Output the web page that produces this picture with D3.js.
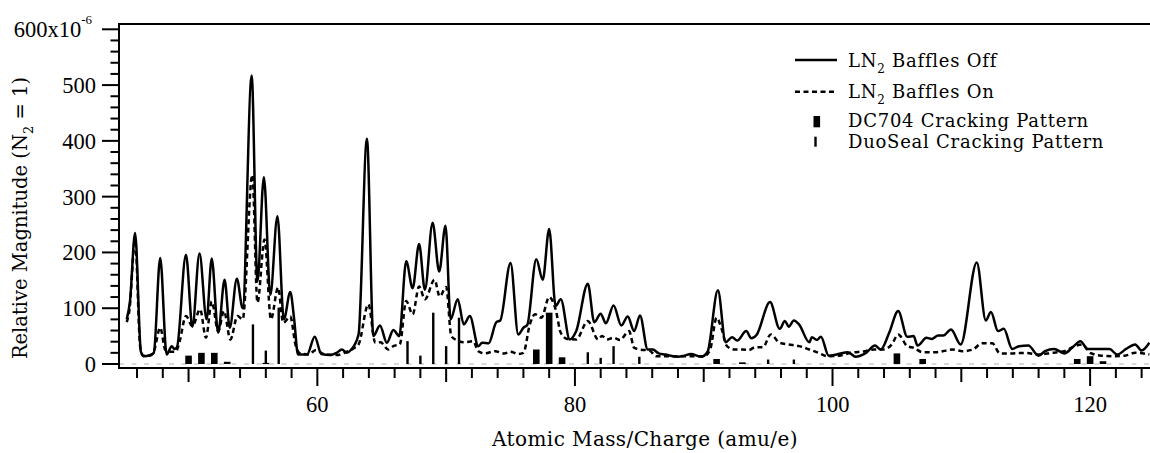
<!DOCTYPE html>
<html>
<head>
<meta charset="utf-8">
<script src="https://cdn.jsdelivr.net/npm/d3@7"></script>
<style>
  html, body { margin: 0; padding: 0; background: #fff; }
  svg { display: block; }
  text { fill: #000; }
</style>
</head>
<body>
<svg id="chart" width="1150" height="453"></svg>
<script>
// Residual gas spectrum, relative magnitude (N2 = 1), units of 1e-6.
// Each series: [mass (amu/e), magnitude] at peaks, valleys and shoulders.
const bafflesOff = [
  [45.2, 80], [45.45, 112], [45.85, 235], [46.3, 22], [46.5, 14], [47.0, 16], [47.3, 20],
  [47.8, 190], [48.3, 17], [48.7, 32], [48.9, 27], [49.1, 30], [49.8, 196], [50.3, 67],
  [50.85, 198], [51.4, 80], [51.8, 189], [52.3, 56], [52.8, 151], [53.2, 65], [53.75, 153],
  [54.2, 100], [54.9, 517], [55.35, 148], [55.85, 335], [56.35, 124], [56.9, 265],
  [57.4, 80], [57.9, 129], [58.2, 80], [58.5, 17], [59.2, 17], [59.8, 49], [60.3, 18],
  [61.0, 16], [61.5, 20], [61.9, 26], [62.3, 20], [62.6, 25], [63.2, 53], [63.85, 404],
  [64.35, 50], [64.86, 69], [65.4, 38], [65.9, 61], [66.36, 50], [66.9, 184], [67.4, 136],
  [67.9, 215], [68.35, 133], [68.95, 253], [69.46, 166], [69.95, 248], [70.35, 80],
  [70.9, 116], [71.37, 71], [71.84, 86], [72.5, 32], [72.8, 38], [73.3, 37], [73.9, 75],
  [74.2, 78], [75.0, 181], [75.6, 53], [76.0, 65], [76.3, 70], [77.0, 188], [77.5, 151],
  [78.0, 242], [78.5, 104], [78.9, 116], [79.6, 44], [80.1, 59], [81.0, 144], [81.5, 75],
  [82.0, 90], [82.4, 73], [83.0, 105], [83.6, 69], [84.1, 85], [84.6, 59], [85.05, 87],
  [85.65, 26], [86.05, 26], [86.5, 19], [87.0, 17], [88.0, 13], [88.5, 15], [89.0, 18],
  [89.8, 13], [90.3, 22], [91.1, 132], [91.7, 39], [92.2, 48], [92.6, 42], [93.3, 59],
  [93.7, 46], [94.1, 52], [95.15, 111], [95.9, 63], [96.3, 77], [96.6, 67], [97.0, 78],
  [97.4, 71], [98.2, 39], [98.4, 48], [98.8, 43], [99.1, 49], [99.7, 15], [100.3, 17],
  [101.2, 21], [101.8, 13], [102.6, 20], [103.3, 33], [103.75, 26], [104.4, 56],
  [105.1, 95], [105.8, 49], [106.3, 50], [106.6, 33], [107.3, 47], [107.7, 45],
  [108.2, 51], [108.6, 51], [109.2, 62], [109.95, 35], [111.2, 182], [111.9, 78],
  [112.3, 93], [112.85, 59], [113.3, 63], [113.95, 27], [114.5, 32], [115.2, 33],
  [116.0, 15], [116.5, 23], [117.2, 27], [118.0, 19], [118.6, 29], [119.25, 41],
  [119.8, 27], [120.5, 27], [121.0, 27], [121.5, 27], [122.1, 17], [122.8, 27],
  [123.5, 35], [124.0, 24], [124.6, 38]
];

const bafflesOn = [
  [45.2, 75], [45.4, 95], [45.85, 222], [46.25, 30], [46.5, 15], [47.0, 15], [47.3, 22],
  [47.8, 65], [48.2, 25], [48.6, 22], [49.0, 22], [49.3, 40], [49.8, 86], [50.3, 68],
  [50.9, 98], [51.35, 47], [51.8, 112], [52.3, 59], [52.75, 95], [53.25, 44], [53.8, 86],
  [54.2, 80], [54.95, 339], [55.35, 110], [55.9, 223], [56.4, 80], [56.95, 137],
  [57.35, 74], [57.9, 85], [58.3, 35], [58.6, 20], [59.3, 17], [59.9, 25], [60.5, 18],
  [61.5, 16], [62.3, 22], [62.8, 28], [63.2, 35], [63.96, 107], [64.5, 38], [64.9, 39],
  [65.5, 26], [65.9, 32], [66.4, 35], [66.9, 113], [67.4, 89], [67.9, 139], [68.35, 116],
  [69.1, 151], [69.5, 121], [70.0, 138], [70.4, 50], [70.9, 42], [71.4, 39], [72.1, 41],
  [72.5, 23], [73.0, 19], [73.8, 23], [74.5, 19], [75.0, 22], [75.6, 18], [76.0, 20],
  [76.5, 71], [76.9, 89], [77.4, 83], [78.0, 120], [78.5, 98], [78.9, 56], [79.4, 45],
  [80.1, 44], [81.0, 77], [81.8, 44], [82.1, 50], [82.5, 44], [83.0, 47], [83.5, 43],
  [84.2, 59], [84.6, 29], [85.0, 26], [85.8, 24], [86.3, 14], [87.0, 14], [88.0, 14],
  [89.0, 14], [90.0, 14], [90.5, 26], [91.0, 83], [91.4, 62], [91.8, 32], [92.4, 26],
  [93.0, 26], [93.5, 25], [94.0, 30], [94.6, 30], [95.2, 53], [95.9, 38], [96.6, 35],
  [97.4, 32], [98.2, 26], [98.9, 20], [99.6, 14], [100.5, 15], [101.4, 20], [102.5, 23],
  [103.2, 26], [103.9, 26], [104.6, 35], [105.1, 53], [105.8, 32], [106.3, 29],
  [107.0, 21], [108.0, 21], [108.8, 24], [109.3, 26], [110.1, 23], [110.9, 26],
  [111.6, 37], [112.4, 37], [113.0, 19], [114.0, 19], [115.0, 20], [116.0, 17],
  [117.0, 20], [118.0, 23], [118.8, 32], [119.4, 35], [120.0, 20], [120.9, 15],
  [121.7, 14], [122.7, 15], [123.5, 20], [124.6, 17]
];

// Cracking patterns (bar heights, same units)
const dc704Mass  = [50, 51, 52, 53, 56, 77, 78, 79, 91, 93, 105, 107, 119, 120, 121];
const dc704Value = [15, 20, 20, 4, 2, 26, 92, 12, 9, 3, 19, 9, 9, 14, 5];
const duoSealMass  = [55, 56, 57, 67, 68, 69, 70, 71, 81, 82, 83, 85, 95, 97];
const duoSealValue = [71, 24, 101, 41, 15, 92, 32, 83, 21, 11, 32, 13, 8, 8];

const xLabelTicks = [60, 80, 100, 120];
const yLabelTicks = [0, 100, 200, 300, 400, 500, 600];

const svg = d3.select("#chart");
const pLeft = 119, pRight = 1150, pTop = 24, pBottom = 368;

const x = d3.scaleLinear().domain([44.6, 124.65]).range([pLeft, pRight]);
const y = d3.scaleLinear().domain([0, 600]).range([364, 29.3]);

const serifTicks = "'Liberation Serif', serif";
const serifText = "'DejaVu Serif', serif";

// zero reference line
svg.append("line")
  .attr("x1", pLeft).attr("x2", pRight)
  .attr("y1", y(0)).attr("y2", y(0))
  .attr("stroke", "#b4b4b4").attr("stroke-width", 1)
  .attr("stroke-dasharray", "5,7.5");

// cracking pattern bars
const barG = svg.append("g");
barG.selectAll("rect.dc")
  .data(d3.zip(dc704Mass, dc704Value))
  .join("rect")
  .attr("class", "dc")
  .attr("x", d => x(d[0]) - 3.3)
  .attr("width", 6.6)
  .attr("y", d => y(d[1]))
  .attr("height", d => Math.max(1.2, y(0) - y(d[1])))
  .attr("fill", "#000");
barG.selectAll("rect.ds")
  .data(d3.zip(duoSealMass, duoSealValue))
  .join("rect")
  .attr("class", "ds")
  .attr("x", d => x(d[0]) - 1.2)
  .attr("width", 2.4)
  .attr("y", d => y(d[1]))
  .attr("height", d => y(0) - y(d[1]))
  .attr("fill", "#000");

// spectra
const line = d3.line()
  .x(d => x(d[0]))
  .y(d => y(d[1]))
  .curve(d3.curveMonotoneX);

svg.append("clipPath").attr("id", "plotClip")
  .append("rect").attr("x", pLeft).attr("y", pTop)
  .attr("width", pRight - pLeft).attr("height", pBottom - pTop);

svg.append("path")
  .datum(bafflesOn)
  .attr("clip-path", "url(#plotClip)")
  .attr("d", line)
  .attr("fill", "none")
  .attr("stroke", "#000")
  .attr("stroke-width", 2.5)
  .attr("stroke-dasharray", "5,3.5");

svg.append("path")
  .datum(bafflesOff)
  .attr("clip-path", "url(#plotClip)")
  .attr("d", line)
  .attr("fill", "none")
  .attr("stroke", "#000")
  .attr("stroke-width", 2.5)
  .attr("stroke-linejoin", "round");

// frame: left axis, top edge, bottom axis
svg.append("path")
  .attr("d", `M${pRight},${pTop}H${pLeft}V${pBottom}H${pRight}`)
  .attr("fill", "none").attr("stroke", "#000").attr("stroke-width", 2);

// x ticks: every 2, medium every 10, long every 20
const xTickVals = d3.range(46, 125, 2);
svg.append("g").selectAll("line")
  .data(xTickVals)
  .join("line")
  .attr("x1", d => x(d)).attr("x2", d => x(d))
  .attr("y1", pBottom)
  .attr("y2", d => pBottom + (d % 20 === 0 ? 18 : d % 10 === 0 ? 14 : 10))
  .attr("stroke", "#000").attr("stroke-width", 2);

svg.append("g").selectAll("text")
  .data(xLabelTicks)
  .join("text")
  .attr("x", d => x(d))
  .attr("y", 412)
  .attr("text-anchor", "middle")
  .style("font-family", serifTicks)
  .style("font-size", "22.5px")
  .text(d => d);

// y ticks: every 20, long every 100
const yTickVals = d3.range(0, 601, 20);
svg.append("g").selectAll("line")
  .data(yTickVals)
  .join("line")
  .attr("x1", d => pLeft - (d % 100 === 0 ? 17 : 8.5))
  .attr("x2", pLeft)
  .attr("y1", d => y(d)).attr("y2", d => y(d))
  .attr("stroke", "#000").attr("stroke-width", 2);

const yLab = svg.append("g").selectAll("text")
  .data(yLabelTicks)
  .join("text")
  .attr("x", d => d === 600 ? 92 : 96)
  .attr("y", d => y(d) + 8)
  .attr("text-anchor", "end")
  .style("font-family", serifTicks)
  .style("font-size", "22.5px");
yLab.each(function(d) {
  const t = d3.select(this);
  if (d === 600) {
    t.append("tspan").text("600x10");
    t.append("tspan").attr("dy", -13).style("font-size", "13px").text("-6");
  } else {
    t.text(d);
  }
});

// axis titles
svg.append("text")
  .attr("x", 645)
  .attr("y", 446)
  .attr("text-anchor", "middle")
  .style("font-family", serifText)
  .style("font-size", "20px")
  .style("letter-spacing", "0.4px")
  .text("Atomic Mass/Charge (amu/e)");

const yTitle = svg.append("text")
  .attr("transform", "translate(27,77) rotate(-90)")
  .attr("text-anchor", "end")
  .style("font-family", serifText)
  .style("font-size", "19.5px");
yTitle.append("tspan").text("Relative Magnitude (N");
yTitle.append("tspan").attr("dy", 6).style("font-size", "13px").text("2");
yTitle.append("tspan").attr("dy", -6).text(" = 1)");

// legend
const legend = svg.append("g");
const lx = 848;
legend.append("line").attr("x1", 795).attr("x2", 837).attr("y1", 60).attr("y2", 60)
  .attr("stroke", "#000").attr("stroke-width", 2.5);
legend.append("line").attr("x1", 795).attr("x2", 837).attr("y1", 91.7).attr("y2", 91.7)
  .attr("stroke", "#000").attr("stroke-width", 2.5).attr("stroke-dasharray", "5,3.5");
legend.append("rect").attr("x", 813.5).attr("y", 116).attr("width", 6.6).attr("height", 11.3).attr("fill", "#000");
legend.append("rect").attr("x", 814.3).attr("y", 136.7).attr("width", 2.4).attr("height", 10).attr("fill", "#000");

const legendFont = "18px";
const legendSpacing = "0.75px";
function ln2Label(yy, rest) {
  const t = legend.append("text").attr("x", lx).attr("y", yy)
    .style("font-family", serifText).style("font-size", legendFont)
    .style("letter-spacing", legendSpacing);
  t.append("tspan").text("LN");
  t.append("tspan").attr("dy", 6).style("font-size", "12px").text("2");
  t.append("tspan").attr("dy", -6).text(" " + rest);
}
ln2Label(66.5, "Baffles Off");
ln2Label(97.5, "Baffles On");
legend.append("text").attr("x", lx).attr("y", 126.5)
  .style("font-family", serifText).style("font-size", legendFont)
  .style("letter-spacing", legendSpacing).text("DC704 Cracking Pattern");
legend.append("text").attr("x", lx).attr("y", 147.5)
  .style("font-family", serifText).style("font-size", legendFont)
  .style("letter-spacing", legendSpacing).text("DuoSeal Cracking Pattern");
</script>
</body>
</html>
